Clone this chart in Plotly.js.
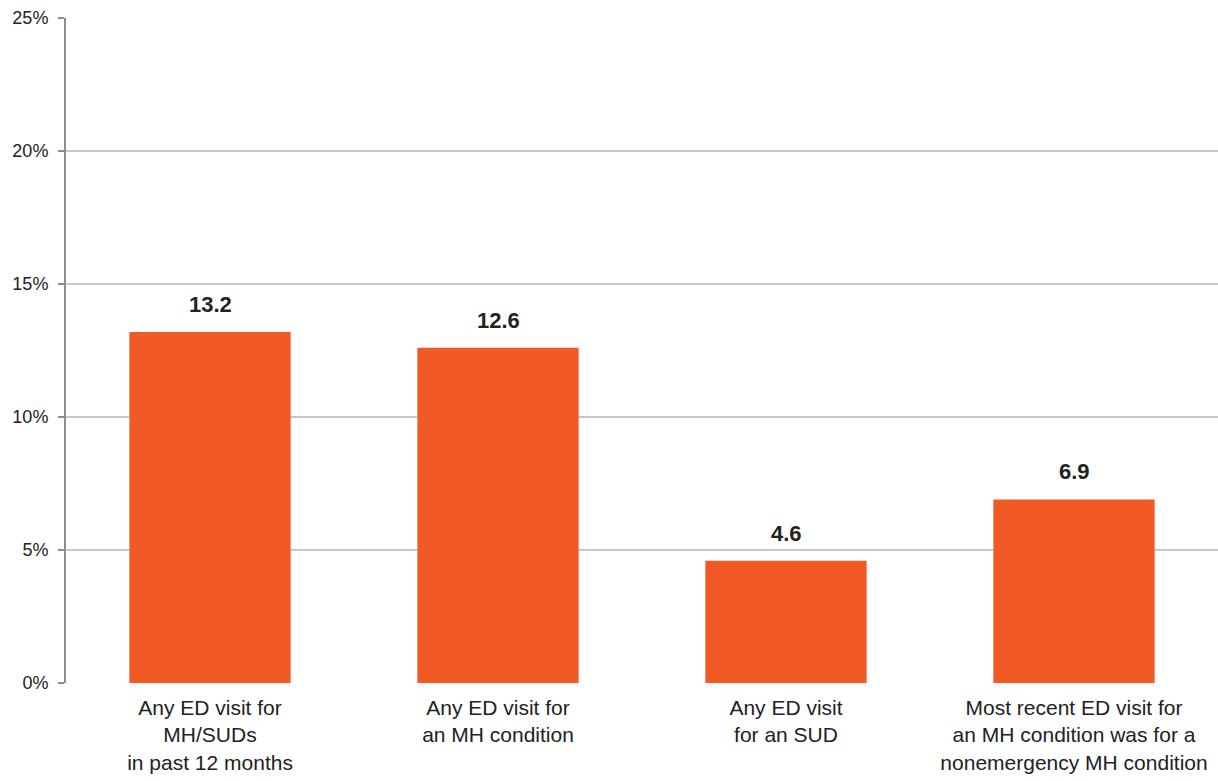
<!DOCTYPE html>
<html>
<head>
<meta charset="utf-8">
<script src="https://cdn.plot.ly/plotly-3.0.1.min.js"></script>
<style>html,body{margin:0;padding:0;background:#fff;}#chart{width:1218px;height:781px;}</style>
</head>
<body>
<div id="chart"></div>
<script>
const categories = [
  "Any ED visit for<br>MH/SUDs<br>in past 12 months",
  "Any ED visit for<br>an MH condition",
  "Any ED visit<br>for an SUD",
  "Most recent ED visit for<br>an MH condition was for a<br>nonemergency MH condition"
];
const values = [13.2, 12.6, 4.6, 6.9];
const valueLabels = ["13.2", "12.6", "4.6", "6.9"];
const tickVals = [0, 5, 10, 15, 20, 25];
const tickText = ["0%", "5%", "10%", "15%", "20%", "25%"];

const FONT = "'Liberation Sans Narrow', 'Arial Narrow', 'Liberation Sans', Arial, sans-serif";

const trace = {
  type: "bar",
  x: categories,
  y: values,
  marker: {color: "#F15A24"},
  hoverinfo: "none"
};

const annotations = categories.map((c, i) => ({
  x: c, y: values[i], xref: "x", yref: "y",
  text: "<b>" + valueLabels[i] + "</b>",
  showarrow: false, yanchor: "bottom", yshift: 13,
  bgcolor: "#ffffff", borderpad: 1,
  font: {family: FONT, size: 22, color: "#222222"}
}));

const layout = {
  width: 1218, height: 781,
  margin: {l: 66, r: 0, t: 18, b: 98},
  paper_bgcolor: "#ffffff", plot_bgcolor: "#ffffff",
  bargap: 0.44,
  showlegend: false,
  font: {family: FONT, color: "#222222"},
  xaxis: {
    type: "category",
    showgrid: false, showline: false, zeroline: false,
    ticks: "", tickfont: {family: FONT, size: 21, color: "#222222"},
    tickangle: 0, ticklabelstandoff: 10
  },
  yaxis: {
    range: [0, 25],
    tickvals: tickVals, ticktext: tickText,
    tickfont: {family: FONT, size: 18, color: "#222222"},
    showgrid: true, gridcolor: "#c8c8c8", gridwidth: 1.5,
    zeroline: false,
    showline: true, linecolor: "#8c8c8c", linewidth: 2,
    ticks: "outside", ticklen: 6, tickcolor: "#8c8c8c", tickwidth: 1.5,
    ticklabelstandoff: 6
  },
  annotations: annotations
};

Plotly.newPlot("chart", [trace], layout, {displayModeBar: false, staticPlot: true});
</script>
</body>
</html>
